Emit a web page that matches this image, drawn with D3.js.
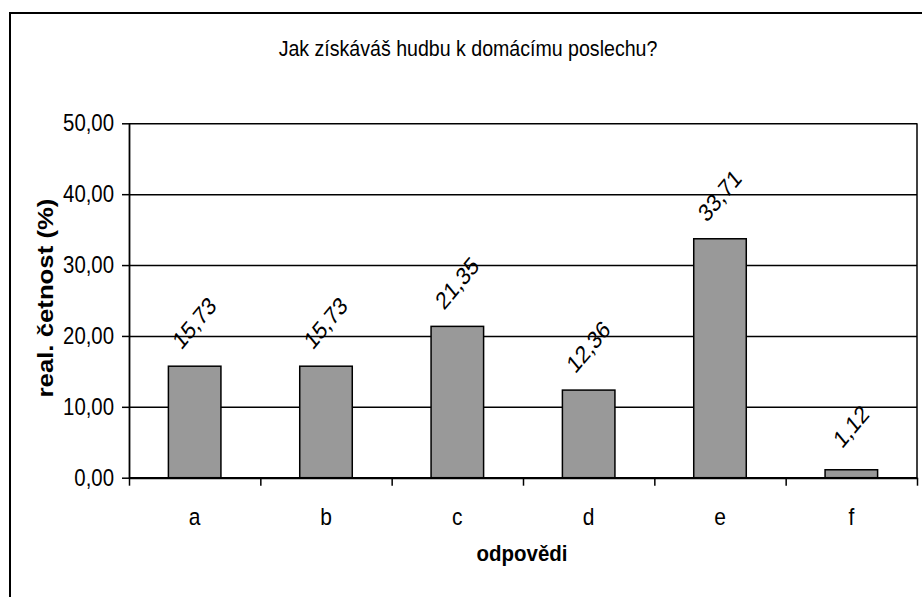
<!DOCTYPE html>
<html>
<head>
<meta charset="utf-8">
<script src="https://cdn.jsdelivr.net/npm/d3@7/dist/d3.min.js"></script>
<style>
  html, body { margin: 0; padding: 0; background: #fff; }
  svg { display: block; }
  text { font-family: "Liberation Sans", Arial, sans-serif; fill: #000; }
</style>
</head>
<body>
<svg id="chart" width="922" height="597"></svg>
<script>
// ---- data ----
const categories = ["a", "b", "c", "d", "e", "f"];
const values = [15.73, 15.73, 21.35, 12.36, 33.71, 1.12];
const yTicks = [0, 10, 20, 30, 40, 50];
const titleText = "Jak získáváš hudbu k domácímu poslechu?";
const yTitle = "real. četnost (%)";
const xTitle = "odpovědi";

(function () {
const fmt = d => d.toFixed(2).replace(".", ",");

const svg = d3.select("#chart");
const SY = 1.12; // vertical stretch of text

// outer frame
svg.append("rect")
  .attr("x", 10).attr("y", 13).attr("width", 930).attr("height", 600)
  .attr("fill", "none").attr("stroke", "#000").attr("stroke-width", 2);

const pL = 129, pR = 917, pT = 123.3, pB = 477.7;

const y = d3.scaleLinear().domain([0, 50]).range([pB, pT]);
const x = d3.scaleBand().domain(categories).range([pL, pR])
  .paddingInner(0.6).paddingOuter(0.3);
const xb = d3.scaleLinear().domain([0, categories.length]).range([pL, pR]);

// gridlines
const grid = svg.append("g").attr("transform", `translate(${pL},0)`)
  .call(d3.axisLeft(y).tickValues(yTicks).tickSize(-(pR - pL)).tickFormat(""));
grid.select(".domain").remove();
grid.selectAll("line").attr("stroke", "#000").attr("stroke-width", 1.5);

// right border
svg.append("line").attr("x1", pR).attr("x2", pR).attr("y1", pT).attr("y2", pB)
  .attr("stroke", "#000").attr("stroke-width", 1.5);

// bars
svg.append("g").selectAll("rect").data(values).join("rect")
  .attr("x", (d, i) => x(categories[i]))
  .attr("width", x.bandwidth())
  .attr("y", d => y(d))
  .attr("height", d => y(0) - y(d))
  .attr("fill", "#999999")
  .attr("stroke", "#000")
  .attr("stroke-width", 1.5);

// y axis
const yAx = svg.append("g").attr("transform", `translate(${pL},0)`)
  .call(d3.axisLeft(y).tickValues(yTicks).tickSize(7).tickSizeOuter(0).tickFormat(""));
yAx.select(".domain").attr("stroke", "#000").attr("stroke-width", 1.8);
yAx.selectAll("line").attr("stroke", "#000").attr("stroke-width", 1.5);

// y tick labels
svg.append("g").selectAll("text").data(yTicks).join("text")
  .attr("transform", d => `translate(114,${y(d)}) scale(0.97,${SY + 0.03})`)
  .attr("text-anchor", "end")
  .attr("dominant-baseline", "central")
  .style("font-size", "21px")
  .text(d => fmt(d));

// x axis with boundary ticks
const xAx = svg.append("g").attr("transform", `translate(0,${pB})`)
  .call(d3.axisBottom(xb).ticks(categories.length).tickSize(8).tickSizeOuter(0).tickFormat(""));
xAx.select(".domain").attr("stroke", "#000").attr("stroke-width", 2.2);
xAx.selectAll("line").attr("stroke", "#000").attr("stroke-width", 1.5);

// category labels
svg.append("g").selectAll("text").data(categories).join("text")
  .attr("transform", d => `translate(${x(d) + x.bandwidth() / 2},525) scale(1,${SY + 0.05})`)
  .attr("text-anchor", "middle")
  .style("font-size", "21px")
  .text(d => d);

// data labels
svg.append("g").selectAll("text").data(values).join("text")
  .attr("transform", (d, i) => `translate(${x(categories[i]) + x.bandwidth() / 2},${y(d) - 43}) scale(1,1.2) rotate(-45)`)
  .attr("text-anchor", "middle")
  .attr("dominant-baseline", "central")
  .style("font-size", "20.5px")
  .text(d => fmt(d));

// title
svg.append("text")
  .attr("transform", `translate(468,56) scale(1,1.08)`)
  .attr("text-anchor", "middle")
  .style("font-size", "19.6px")
  .text(titleText);

// y title
svg.append("text")
  .attr("transform", `translate(53,298) scale(1,${SY}) rotate(-90)`)
  .attr("text-anchor", "middle")
  .style("font-size", "23px")
  .style("font-weight", "bold")
  .text(yTitle);

// x title
svg.append("text")
  .attr("transform", `translate(522,561) scale(1,${SY})`)
  .attr("text-anchor", "middle")
  .style("font-size", "20.5px")
  .style("font-weight", "bold")
  .text(xTitle);
})();
</script>
</body>
</html>
